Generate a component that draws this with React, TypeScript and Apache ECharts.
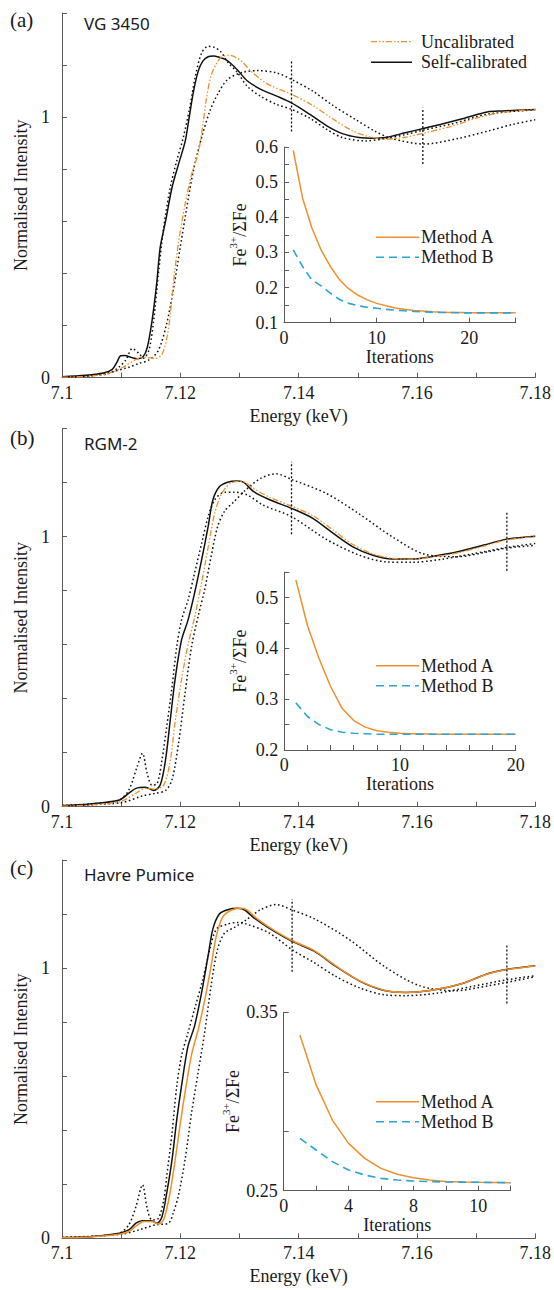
import React, { useEffect, useRef } from "react";
import * as echarts from "echarts";

// ---------- DATA ----------
const panelLetters = ["(a)", "(b)", "(c)"];
const sampleNames = ["VG 3450", "RGM-2", "Havre Pumice"];
const mainLegend = ["Uncalibrated", "Self-calibrated"];
const insetLegend = ["Method A", "Method B"];

// Panel (a) spectra [energy keV, normalised intensity]
const aSelfCal = [[7.1,0.004],[7.104,0.009],[7.107,0.018],[7.1085,0.032],[7.1093,0.06],[7.1099,0.084],[7.1106,0.085],[7.1118,0.077],[7.1128,0.073],[7.1137,0.08],[7.1144,0.115],[7.1152,0.215],[7.116,0.36],[7.1166,0.5],[7.1175,0.6],[7.1186,0.73],[7.1197,0.82],[7.1208,0.905],[7.1214,0.985],[7.1222,1.095],[7.123,1.175],[7.1238,1.215],[7.1247,1.232],[7.1256,1.235],[7.1266,1.23],[7.1276,1.222],[7.1286,1.205],[7.1297,1.18],[7.1313,1.14],[7.1336,1.107],[7.1363,1.081],[7.1388,1.055],[7.1419,1.011],[7.1447,0.968],[7.1474,0.937],[7.1502,0.922],[7.1524,0.919],[7.1547,0.922],[7.158,0.94],[7.1611,0.957],[7.1641,0.973],[7.168,0.996],[7.1719,1.02],[7.1745,1.024],[7.18,1.03]];
const aUncal = [[7.1,0.002],[7.105,0.006],[7.108,0.017],[7.1103,0.04],[7.1125,0.07],[7.1141,0.078],[7.1158,0.074],[7.1169,0.09],[7.1177,0.15],[7.1183,0.24],[7.1188,0.36],[7.1197,0.52],[7.1208,0.665],[7.1219,0.78],[7.123,0.86],[7.1238,0.97],[7.1244,1.07],[7.1252,1.16],[7.1261,1.205],[7.1269,1.23],[7.1282,1.238],[7.1295,1.228],[7.1305,1.212],[7.1319,1.178],[7.1347,1.128],[7.1388,1.088],[7.1424,1.045],[7.1458,0.993],[7.1491,0.948],[7.1519,0.925],[7.1547,0.916],[7.158,0.923],[7.1613,0.94],[7.1658,0.965],[7.1702,0.997],[7.1741,1.017],[7.18,1.03]];
const aRefLow = [[7.1,0.003],[7.105,0.008],[7.108,0.017],[7.1097,0.042],[7.1108,0.068],[7.1119,0.112],[7.113,0.093],[7.1138,0.075],[7.1147,0.106],[7.1155,0.22],[7.1163,0.4],[7.1172,0.578],[7.1183,0.73],[7.1194,0.833],[7.1205,0.922],[7.1216,1.037],[7.1225,1.152],[7.1236,1.247],[7.1247,1.272],[7.1258,1.268],[7.1269,1.25],[7.128,1.212],[7.1297,1.17],[7.1313,1.119],[7.1336,1.08],[7.1363,1.049],[7.1388,1.03],[7.1419,0.996],[7.1447,0.954],[7.1474,0.922],[7.1513,0.909],[7.1547,0.918],[7.158,0.933],[7.161,0.95],[7.166,0.975],[7.172,1.012],[7.18,1.028]];
const aRefHigh = [[7.1,0.002],[7.106,0.01],[7.1113,0.04],[7.113,0.055],[7.1147,0.068],[7.1163,0.105],[7.1177,0.208],[7.1188,0.335],[7.1199,0.488],[7.121,0.641],[7.1222,0.794],[7.1236,0.922],[7.125,1.024],[7.1263,1.088],[7.128,1.145],[7.1305,1.172],[7.133,1.179],[7.1363,1.17],[7.1388,1.145],[7.1424,1.1],[7.1458,1.045],[7.1497,0.99],[7.153,0.945],[7.1558,0.918],[7.1611,0.897],[7.1669,0.918],[7.1722,0.948],[7.1763,0.973],[7.18,0.99]];
const aMarkers = [[7.1388, 0.945, 1.218], [7.161, 0.82, 1.036]];
const aIter = [1,2,3,4,5,6,7,8,9,10,11,12,13,14,15,16,17,18,19,20,21,22,23,24,25];
const aMethodA = [0.59,0.455,0.37,0.307,0.26,0.222,0.196,0.178,0.165,0.155,0.148,0.142,0.138,0.135,0.133,0.131,0.13,0.129,0.129,0.128,0.128,0.128,0.128,0.128,0.128];
const aMethodB = [0.307,0.26,0.222,0.205,0.184,0.166,0.155,0.148,0.144,0.141,0.138,0.136,0.134,0.132,0.131,0.13,0.129,0.129,0.128,0.128,0.128,0.128,0.128,0.128,0.128];

// Panel (b)
const bSelfCal = [[7.1,0.004],[7.1047,0.01],[7.1097,0.025],[7.1113,0.05],[7.1125,0.068],[7.1141,0.072],[7.1155,0.06],[7.1166,0.08],[7.1175,0.173],[7.1183,0.321],[7.1191,0.469],[7.1202,0.617],[7.1213,0.691],[7.1224,0.79],[7.1236,0.914],[7.1247,1.037],[7.1255,1.136],[7.1266,1.185],[7.128,1.202],[7.1297,1.206],[7.1308,1.2],[7.1324,1.167],[7.1352,1.136],[7.1388,1.105],[7.1424,1.068],[7.1458,1.013],[7.1491,0.963],[7.1524,0.932],[7.1558,0.917],[7.1591,0.917],[7.1624,0.926],[7.1669,0.944],[7.1713,0.969],[7.1752,0.991],[7.18,1.002]];
const bUncal = [[7.1,0.002],[7.1047,0.006],[7.11,0.02],[7.1125,0.05],[7.1141,0.068],[7.1158,0.066],[7.1172,0.08],[7.1183,0.17],[7.1191,0.31],[7.1202,0.47],[7.1213,0.6],[7.1224,0.7],[7.1236,0.83],[7.1247,0.96],[7.1258,1.085],[7.127,1.16],[7.1285,1.198],[7.1303,1.205],[7.1324,1.178],[7.1352,1.145],[7.1388,1.113],[7.1424,1.078],[7.1458,1.025],[7.1491,0.972],[7.1524,0.937],[7.1558,0.92],[7.1591,0.917],[7.1624,0.924],[7.1669,0.94],[7.1713,0.965],[7.1752,0.988],[7.18,1.0]];
const bRefLow = [[7.1,0.005],[7.1047,0.01],[7.1097,0.025],[7.1113,0.062],[7.1127,0.148],[7.1136,0.198],[7.1144,0.123],[7.1152,0.08],[7.1161,0.086],[7.1169,0.173],[7.1177,0.296],[7.1186,0.444],[7.1194,0.593],[7.1202,0.691],[7.1213,0.765],[7.1224,0.864],[7.1236,0.975],[7.1247,1.074],[7.1258,1.136],[7.1275,1.165],[7.129,1.165],[7.1313,1.155],[7.1339,1.118],[7.1388,1.074],[7.1447,0.99],[7.1502,0.932],[7.1547,0.907],[7.1591,0.905],[7.1641,0.916],[7.1693,0.936],[7.1752,0.96],[7.18,0.975]];
const bRefHigh = [[7.1,0.003],[7.11,0.015],[7.1136,0.04],[7.1158,0.05],[7.1175,0.06],[7.1186,0.1],[7.1197,0.235],[7.1208,0.42],[7.1219,0.593],[7.123,0.704],[7.1241,0.802],[7.1252,0.926],[7.1263,1.037],[7.1275,1.095],[7.1291,1.13],[7.1309,1.17],[7.1335,1.215],[7.1362,1.233],[7.1388,1.212],[7.1447,1.16],[7.1502,1.085],[7.1558,1.0],[7.1613,0.935],[7.1669,0.926],[7.1722,0.945],[7.1752,0.958],[7.18,0.968]];
const bMarkers = [[7.1388, 1.009, 1.278], [7.1752, 0.874, 1.089]];
const bIter = [1,2,3,4,5,6,7,8,9,10,11,12,13,14,15,16,17,18,19,20];
const bMethodA = [0.535,0.445,0.38,0.325,0.282,0.258,0.245,0.238,0.235,0.233,0.232,0.232,0.231,0.231,0.231,0.231,0.231,0.231,0.231,0.231];
const bMethodB = [0.293,0.266,0.25,0.24,0.235,0.233,0.232,0.231,0.231,0.231,0.231,0.231,0.231,0.231,0.231,0.231,0.231,0.231,0.231,0.231];

// Panel (c)
const cSelfCal = [[7.1,0.003],[7.1047,0.006],[7.1097,0.019],[7.1113,0.031],[7.1125,0.056],[7.1136,0.065],[7.115,0.065],[7.1161,0.056],[7.1169,0.08],[7.1177,0.167],[7.1186,0.291],[7.1194,0.439],[7.1202,0.563],[7.1213,0.711],[7.1224,0.785],[7.1236,0.909],[7.1247,1.045],[7.1255,1.144],[7.1266,1.2],[7.128,1.216],[7.1297,1.221],[7.1309,1.215],[7.1325,1.185],[7.135,1.148],[7.1389,1.099],[7.1427,1.062],[7.1463,1.006],[7.1504,0.951],[7.1545,0.917],[7.1581,0.91],[7.1622,0.917],[7.1675,0.942],[7.1722,0.981],[7.1753,0.996],[7.18,1.009]];
const cUncal = [[7.1,0.002],[7.1047,0.005],[7.1097,0.015],[7.1113,0.025],[7.1125,0.045],[7.1138,0.062],[7.1152,0.062],[7.1163,0.052],[7.1172,0.07],[7.1181,0.15],[7.119,0.27],[7.1199,0.41],[7.1208,0.54],[7.1219,0.68],[7.123,0.77],[7.1242,0.89],[7.1253,1.02],[7.1261,1.12],[7.1272,1.19],[7.1286,1.214],[7.1302,1.221],[7.1312,1.216],[7.1328,1.186],[7.135,1.152],[7.1389,1.102],[7.1427,1.064],[7.1463,1.008],[7.1504,0.952],[7.1545,0.918],[7.1581,0.91],[7.1622,0.917],[7.1675,0.942],[7.1722,0.98],[7.1753,0.995],[7.18,1.008]];
const cRefLow = [[7.1,0.003],[7.1047,0.006],[7.1097,0.019],[7.1113,0.05],[7.1125,0.117],[7.1136,0.198],[7.1144,0.111],[7.1152,0.068],[7.1163,0.074],[7.1172,0.142],[7.1177,0.229],[7.1186,0.39],[7.1194,0.563],[7.1202,0.674],[7.1213,0.761],[7.1224,0.847],[7.1238,0.958],[7.125,1.07],[7.1261,1.144],[7.128,1.163],[7.1297,1.169],[7.1309,1.165],[7.135,1.13],[7.1389,1.068],[7.1427,1.019],[7.1463,0.969],[7.1504,0.926],[7.1545,0.901],[7.1581,0.898],[7.1634,0.907],[7.1693,0.932],[7.1753,0.957],[7.18,0.972]];
const cRefHigh = [[7.1,0.003],[7.11,0.015],[7.1136,0.035],[7.1158,0.05],[7.118,0.056],[7.1188,0.093],[7.1197,0.16],[7.1208,0.291],[7.1219,0.464],[7.123,0.612],[7.1241,0.76],[7.1252,0.934],[7.1263,1.07],[7.1275,1.13],[7.1291,1.15],[7.1309,1.175],[7.1335,1.215],[7.1362,1.235],[7.1389,1.215],[7.1427,1.182],[7.1486,1.105],[7.1545,1.006],[7.1604,0.935],[7.1663,0.916],[7.1722,0.935],[7.18,0.968]];
const cMarkers = [[7.1389, 0.986, 1.255], [7.1752, 0.869, 1.088]];
const cIter = [1,2,3,4,5,6,7,8,9,10,11,12,13,14];
const cMethodA = [0.3373,0.3093,0.2896,0.2765,0.2681,0.2625,0.2592,0.2573,0.256,0.2552,0.2549,0.2547,0.2546,0.2545];
const cMethodB = [0.2793,0.2728,0.2663,0.2616,0.2588,0.2569,0.256,0.2554,0.2551,0.2549,0.2548,0.2547,0.2546,0.2545];

const energyLabels = ["7.1", "7.12", "7.14", "7.16", "7.18"];
const intensityLabels = ["0", "1"];
const insetXLabelsA = ["0", "10", "20"];
const insetXLabelsB = ["0", "10", "20"];
const insetXLabelsC: Record<string, string> = { "0": "0", "4": "4", "8": "8", "12": "10" };

// ---------- STYLE ----------
const SERIF = "'Liberation Serif', 'Times New Roman', 'DejaVu Serif', serif";
const SANS = "'Noto Sans', 'Open Sans', sans-serif";
const FS = 18;
const AXIS = "#5a5a5a";
const TXT = "#1a1a1a";
const ORANGE = "#F0902C";
const BLUE = "#2AA5D8";
const BLACK = "#111111";

const mainGrids = [
  { left: 62, top: 13, width: 480, height: 364.7 },
  { left: 62, top: 428.7, width: 480, height: 378 },
  { left: 62, top: 860, width: 480, height: 378.3 },
];
const insetGrids = [
  { left: 284, top: 147, width: 231.7, height: 175.7 },
  { left: 284.3, top: 572.2, width: 231.4, height: 177.8 },
  { left: 283.7, top: 1012.3, width: 227, height: 178.4 },
];

const near = (a: number, b: number) => Math.abs(a - b) < 1e-6;

function App() {
  const ref = useRef<HTMLDivElement>(null);
  useEffect(() => {
    if (!ref.current) return;
    const chart = echarts.init(ref.current, null, { renderer: "svg" });

    const grids: any[] = [];
    const xAxes: any[] = [];
    const yAxes: any[] = [];
    const series: any[] = [];
    const graphics: any[] = [];

    const axisLine = { show: true, onZero: false, lineStyle: { color: AXIS, width: 1 } };
    const tick = { show: true, inside: true, length: 5, lineStyle: { color: AXIS, width: 1 } };
    const lbl = { fontFamily: SERIF, fontSize: FS, color: TXT };

    const spectra = [
      [aSelfCal, aUncal, aRefLow, aRefHigh, aMarkers],
      [bSelfCal, bUncal, bRefLow, bRefHigh, bMarkers],
      [cSelfCal, cUncal, cRefLow, cRefHigh, cMarkers],
    ];
    const insets = [
      { iter: aIter, A: aMethodA, B: aMethodB, xmax: 25, xint: 5, ymin: 0.1, ymax: 0.6, yint: 0.05 },
      { iter: bIter, A: bMethodA, B: bMethodB, xmax: 20, xint: 2, ymin: 0.2, ymax: 0.55, yint: 0.05 },
      { iter: cIter, A: cMethodA, B: cMethodB, xmax: 14, xint: 2, ymin: 0.25, ymax: 0.35, yint: 0.1 / 3 },
    ];

    for (let p = 0; p < 3; p++) {
      const gi = p * 2;
      grids.push({ ...mainGrids[p], containLabel: false });
      grids.push({ ...insetGrids[p], containLabel: false });

      xAxes.push({
        gridIndex: gi, type: "value", min: 7.1, max: 7.18, interval: 0.01,
        axisLine, axisTick: tick, splitLine: { show: false },
        axisLabel: {
          ...lbl, margin: 6, showMinLabel: true, showMaxLabel: true,
          formatter: (v: number) => {
            const s = String(Math.round(v * 100) / 100);
            return energyLabels.includes(s) ? s : "";
          },
        },
        name: "Energy (keV)", nameLocation: "middle", nameGap: 29,
        nameTextStyle: { ...lbl },
      });
      yAxes.push({
        gridIndex: gi, type: "value", min: 0, max: 1.4, interval: 0.2,
        axisLine, axisTick: tick, splitLine: { show: false },
        axisLabel: {
          ...lbl, margin: 12,
          formatter: (v: number) => {
            const s = String(Math.round(v * 10) / 10);
            return intensityLabels.includes(s) ? s : "";
          },
        },
        name: "Normalised Intensity", nameLocation: "middle", nameGap: 28,
        nameTextStyle: { ...lbl },
      });

      const ins = insets[p];
      xAxes.push({
        gridIndex: gi + 1, type: "value", min: 0, max: ins.xmax, interval: ins.xint,
        axisLine, axisTick: tick, splitLine: { show: false },
        axisLabel: {
          ...lbl, margin: 6,
          formatter: (v: number) => {
            const s = String(Math.round(v));
            if (p === 0) return insetXLabelsA.includes(s) ? s : "";
            if (p === 1) return insetXLabelsB.includes(s) ? s : "";
            return insetXLabelsC[s] ?? "";
          },
        },
        name: "Iterations", nameLocation: "middle", nameGap: 22,
        nameTextStyle: { ...lbl },
      });
      yAxes.push({
        gridIndex: gi + 1, type: "value", min: ins.ymin, max: ins.ymax, interval: ins.yint,
        axisLine, axisTick: tick, splitLine: { show: false },
        axisLabel: {
          ...lbl, margin: 6, showMaxLabel: true, showMinLabel: true,
          formatter: (v: number) => {
            if (p === 2) {
              if (near(v, 0.25)) return "0.25";
              if (Math.abs(v - 0.35) < 1e-4) return "0.35";
              return "";
            }
            const k = Math.round(v * 100);
            return k % 10 === 0 ? (k / 100).toFixed(1) : "";
          },
        },
        name: "{n|Fe}{s|3+}{n|/ΣFe}", nameLocation: "middle", nameGap: 35,
        nameTextStyle: {
          ...lbl,
          rich: {
            n: { fontFamily: SERIF, fontSize: FS, color: TXT, verticalAlign: "bottom", lineHeight: 22 },
            s: { fontFamily: SERIF, fontSize: 11, color: TXT, verticalAlign: "top", lineHeight: 22 },
          },
        },
      });

      const [self, uncal, lo, hi, markers] = spectra[p] as any;
      const dotted = { color: BLACK, width: 1.5, type: [1.6, 2.6] };
      series.push({ type: "line", xAxisIndex: gi, yAxisIndex: gi, data: lo, showSymbol: false, symbol: "none", smooth: 0.3, lineStyle: dotted, z: 2 });
      series.push({ type: "line", xAxisIndex: gi, yAxisIndex: gi, data: hi, showSymbol: false, symbol: "none", smooth: 0.3, lineStyle: dotted, z: 2 });
      series.push({ type: "line", xAxisIndex: gi, yAxisIndex: gi, data: self, showSymbol: false, symbol: "none", smooth: 0.3, lineStyle: { color: BLACK, width: 1.5, type: "solid" }, z: 3 });
      series.push({ type: "line", xAxisIndex: gi, yAxisIndex: gi, data: uncal, showSymbol: false, symbol: "none", smooth: 0.3, lineStyle: p === 2 ? { color: ORANGE, width: 1.5, type: "solid" } : { color: ORANGE, width: 1.3, type: [6, 2, 1.5, 2, 1.5, 2] }, z: 4 });
      for (const m of markers) {
        series.push({ type: "line", xAxisIndex: gi, yAxisIndex: gi, data: [[m[0], m[1]], [m[0], m[2]]], showSymbol: false, symbol: "none", lineStyle: { color: BLACK, width: 1.3, type: [2, 2] }, z: 5 });
      }

      series.push({ type: "line", xAxisIndex: gi + 1, yAxisIndex: gi + 1, data: ins.iter.map((x, i) => [x, ins.A[i]]), showSymbol: false, symbol: "none", lineStyle: { color: ORANGE, width: 1.5 }, z: 3 });
      series.push({ type: "line", xAxisIndex: gi + 1, yAxisIndex: gi + 1, data: ins.iter.map((x, i) => [x, ins.B[i]]), showSymbol: false, symbol: "none", lineStyle: { color: BLUE, width: 1.6, type: [8, 5] }, z: 4 });
    }

    // panel labels
    const letterY = [19.5, 437.5, 867.5];
    const nameY = [23, 443.7, 874];
    for (let p = 0; p < 3; p++) {
      graphics.push({ type: "text", x: 10, y: letterY[p], style: { text: panelLetters[p], fontFamily: SERIF, fontSize: 21, fill: TXT, verticalAlign: "middle", align: "left" } });
      graphics.push({ type: "text", x: 84, y: nameY[p], style: { text: sampleNames[p], fontFamily: SANS, fontSize: 17, fill: TXT, verticalAlign: "middle", align: "left" } });
    }
    // main legend (a)
    const mlY = [41.7, 62.3];
    graphics.push({ type: "line", shape: { x1: 371, y1: mlY[0], x2: 412, y2: mlY[0] }, style: { stroke: ORANGE, lineWidth: 1.3, lineDash: [6, 2, 1.5, 2, 1.5, 2] } });
    graphics.push({ type: "line", shape: { x1: 371, y1: mlY[1], x2: 412, y2: mlY[1] }, style: { stroke: BLACK, lineWidth: 1.5 } });
    for (let i = 0; i < 2; i++) {
      graphics.push({ type: "text", x: 421, y: mlY[i], style: { text: mainLegend[i], fontFamily: SERIF, fontSize: FS, fill: TXT, verticalAlign: "middle", align: "left" } });
    }
    // inset legends
    const ilY = [[237.3, 257.3], [665.7, 685.7], [1101.7, 1121.7]];
    for (let p = 0; p < 3; p++) {
      graphics.push({ type: "line", shape: { x1: 376, y1: ilY[p][0], x2: 419, y2: ilY[p][0] }, style: { stroke: ORANGE, lineWidth: 1.5 } });
      graphics.push({ type: "line", shape: { x1: 376, y1: ilY[p][1], x2: 419, y2: ilY[p][1] }, style: { stroke: BLUE, lineWidth: 1.6, lineDash: [8, 5] } });
      for (let i = 0; i < 2; i++) {
        graphics.push({ type: "text", x: 421, y: ilY[p][i], style: { text: insetLegend[i], fontFamily: SERIF, fontSize: FS, fill: TXT, verticalAlign: "middle", align: "left" } });
      }
    }

    chart.setOption({
      animation: false,
      backgroundColor: "#ffffff",
      grid: grids,
      xAxis: xAxes,
      yAxis: yAxes,
      series,
      graphic: graphics,
    });
    return () => chart.dispose();
  }, []);
  return <div ref={ref} style={{ position: "absolute", left: 0, top: 0, width: 554, height: 1290 }} />;
}

export default App;
